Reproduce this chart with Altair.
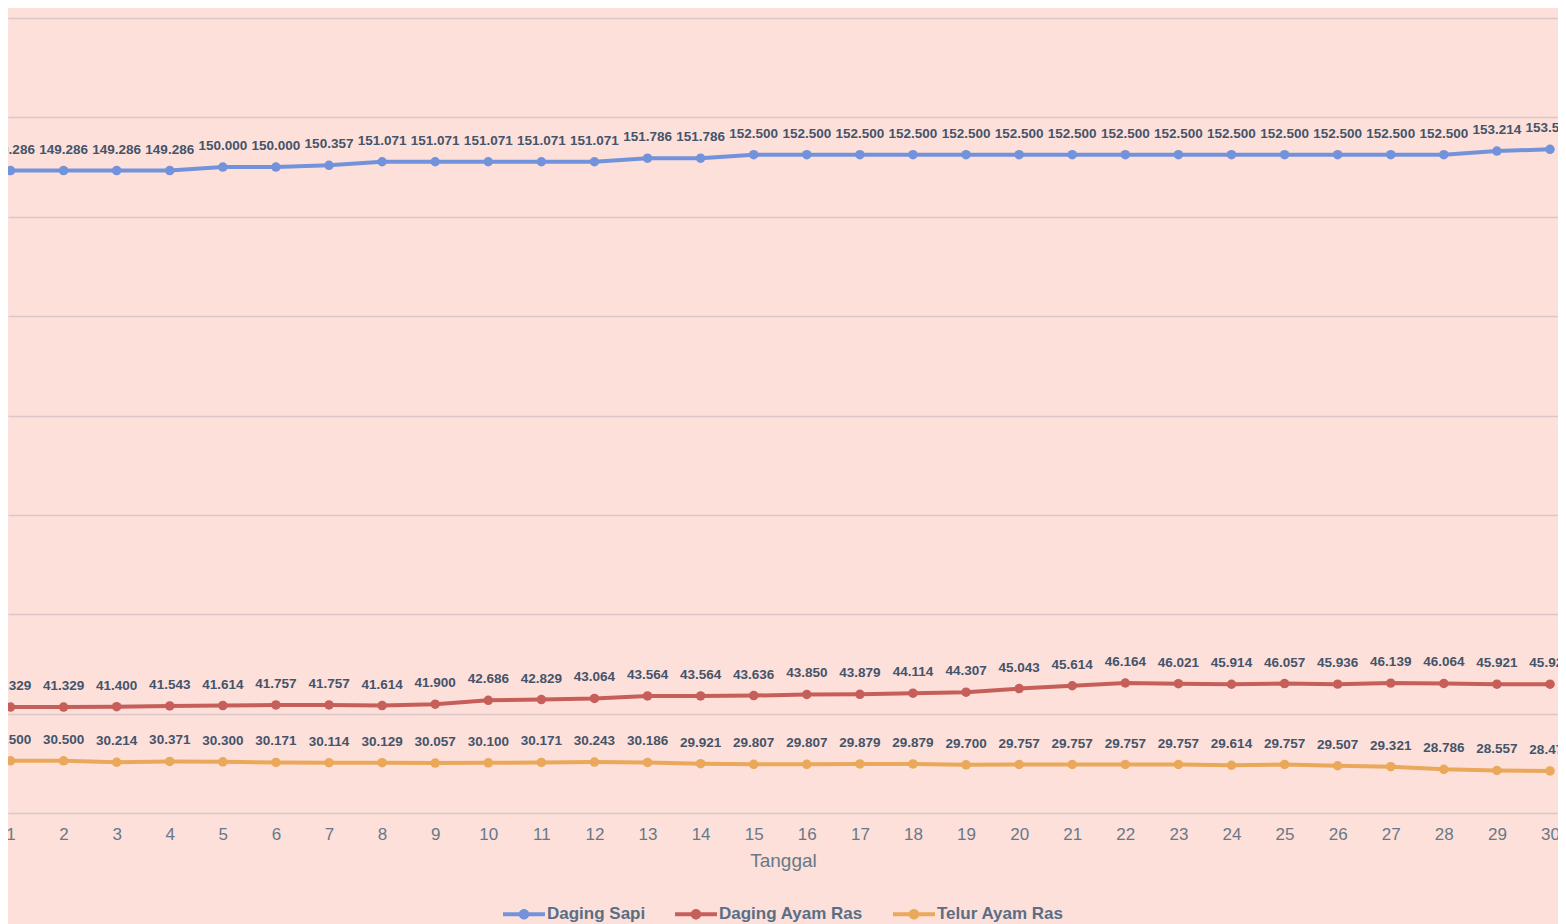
import altair as alt
import pandas as pd

days = list(range(1, 31))
series_names = ["Daging Sapi", "Daging Ayam Ras", "Telur Ayam Ras"]
series_colors = ["#7293DB", "#C65F5A", "#E9A85A"]

daging_sapi = [149286, 149286, 149286, 149286, 150000, 150000, 150357, 151071, 151071, 151071,
               151071, 151071, 151786, 151786, 152500, 152500, 152500, 152500, 152500, 152500,
               152500, 152500, 152500, 152500, 152500, 152500, 152500, 152500, 153214, 153571]
daging_ayam = [41329, 41329, 41400, 41543, 41614, 41757, 41757, 41614, 41900, 42686,
               42829, 43064, 43564, 43564, 43636, 43850, 43879, 44114, 44307, 45043,
               45614, 46164, 46021, 45914, 46057, 45936, 46139, 46064, 45921, 45929]
telur_ayam = [30500, 30500, 30214, 30371, 30300, 30171, 30114, 30129, 30057, 30100,
              30171, 30243, 30186, 29921, 29807, 29807, 29879, 29879, 29700, 29757,
              29757, 29757, 29757, 29614, 29757, 29507, 29321, 28786, 28557, 28471]
y_ticks = [20000, 40000, 60000, 80000, 100000, 120000, 140000, 160000, 180000]

rows = []
for name, vals in zip(series_names, [daging_sapi, daging_ayam, telur_ayam]):
    for d, v in zip(days, vals):
        rows.append({"Tanggal": d, "Seri": name, "Harga": v})
df = pd.DataFrame(rows)

FONT = "Liberation Sans"
AXIS_COLOR = "#687888"
LABEL_COLOR = "#44546A"

x = alt.X(
    "Tanggal:Q",
    scale=alt.Scale(domain=[0.95291, 30.1507], nice=False, zero=False),
    axis=alt.Axis(values=days, title="Tanggal", grid=False, domain=False, ticks=False,
                  labelFlush=False, labelOverlap=False, labelPadding=13, labelFontSize=17,
                  labelColor=AXIS_COLOR, labelFont=FONT, titleFont=FONT, titleFontSize=19,
                  titleColor=AXIS_COLOR, titleFontWeight="normal", titlePadding=9),
)
y = alt.Y(
    "Harga:Q",
    scale=alt.Scale(domain=[20000, 182013], nice=False, zero=False),
    axis=alt.Axis(values=y_ticks, labels=False, ticks=False, domain=False, title=None,
                  grid=True, gridColor="#DCC6C8", gridWidth=1.5),
)
color = alt.Color(
    "Seri:N",
    scale=alt.Scale(domain=series_names, range=series_colors),
    legend=alt.Legend(
        title=None, orient="none", direction="horizontal", legendX=505.5, legendY=895.5,
        symbolType="M-2,-0.2H2V0.2H-2Z M0.5,0A0.5,0.5 0 1,1 -0.5,0A0.5,0.5 0 1,1 0.5,0Z",
        symbolSize=441, symbolStrokeWidth=0, labelOffset=12.5, columnPadding=29,
        labelFont=FONT, labelFontSize=17, labelFontWeight="bold", labelColor="#5A6E85",
        padding=0,
    ),
)

base = alt.Chart(df).encode(x=x, y=y, color=color)
lines = base.mark_line(strokeWidth=4)
points = base.mark_point(filled=True, size=90, opacity=1)
labels = base.transform_calculate(
    lbl="replace(format(datum.Harga, ',.0f'), ',', '.')"
).mark_text(
    font=FONT, fontSize=13.5, fontWeight="bold", color=LABEL_COLOR,
    align="center", baseline="middle", dy=-21,
).encode(text="lbl:N", color=alt.value(LABEL_COLOR))

chart = alt.layer(lines, points, labels).properties(
    width=1550, height=805,
    autosize=alt.AutoSizeParams(type="none"),
    padding={"left": 0, "top": 0, "right": 0, "bottom": 120},
    background="#FDE0DA",
).configure_view(stroke=None)

chart.save("out.html", embed_options={"renderer": "svg", "actions": False})
